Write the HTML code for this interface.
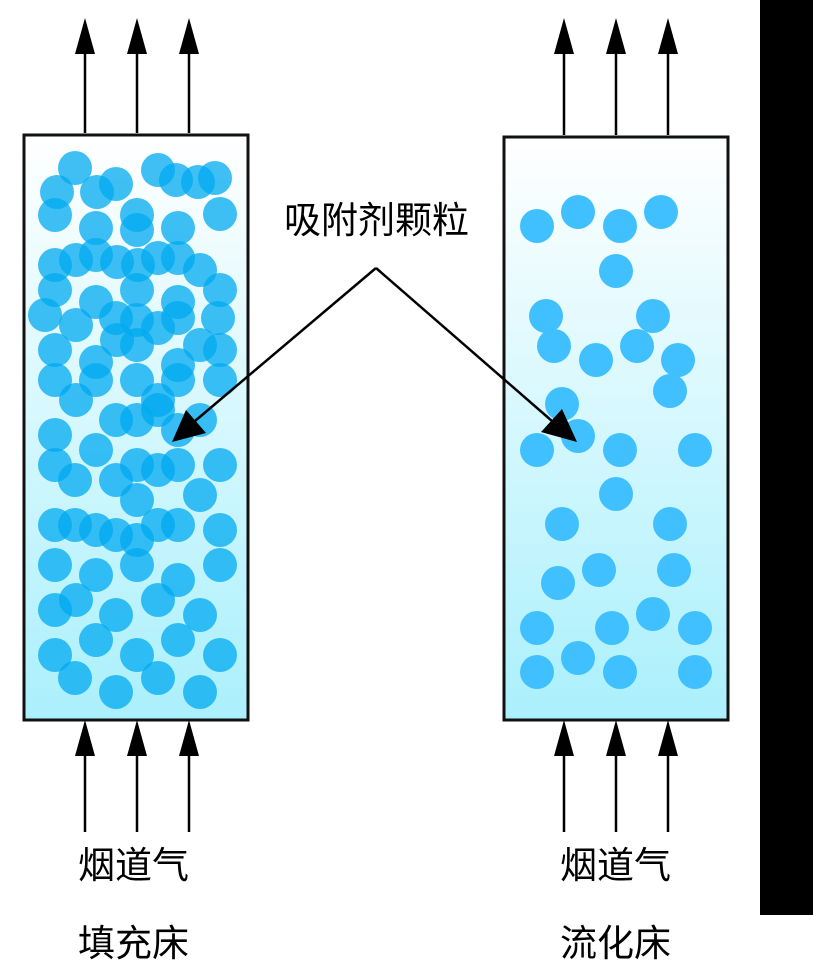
<!DOCTYPE html>
<html><head><meta charset="utf-8"><style>
html,body{margin:0;padding:0;background:#fff;width:813px;height:970px;overflow:hidden}
svg text{font-family:"Liberation Sans","Noto Sans CJK SC",sans-serif;font-size:37px;fill:#000}
</style></head><body>
<svg width="813" height="970" viewBox="0 0 813 970" xmlns="http://www.w3.org/2000/svg">
<defs>
<linearGradient id="g" x1="0" y1="0" x2="0" y2="1">
<stop offset="0" stop-color="#ffffff"/><stop offset="1" stop-color="#aaf0fc"/>
</linearGradient>
</defs>
<rect x="760" y="0" width="53" height="915" fill="#000"/>
<rect x="24" y="135" width="224" height="585" fill="url(#g)" stroke="#111" stroke-width="3"/>
<rect x="504" y="137" width="224" height="583" fill="url(#g)" stroke="#111" stroke-width="3"/>
<g fill="#00aaf0" fill-opacity="0.75">
<circle cx="75" cy="168" r="17"/><circle cx="158" cy="170" r="17"/><circle cx="176" cy="180" r="17"/><circle cx="198" cy="182" r="17"/><circle cx="215" cy="178" r="17"/><circle cx="57" cy="192" r="17"/><circle cx="97" cy="192" r="17"/><circle cx="116" cy="184" r="17"/>
<circle cx="55" cy="215" r="17"/><circle cx="96" cy="228" r="17"/><circle cx="137" cy="215" r="17"/><circle cx="137" cy="230" r="17"/><circle cx="178" cy="228" r="17"/><circle cx="220" cy="214" r="17"/>
<circle cx="55" cy="265" r="17"/><circle cx="96" cy="255" r="17"/><circle cx="76" cy="260" r="17"/><circle cx="117" cy="262" r="17"/><circle cx="138" cy="265" r="17"/><circle cx="158" cy="258" r="17"/><circle cx="178" cy="258" r="17"/><circle cx="200" cy="270" r="17"/>
<circle cx="55" cy="290" r="17"/><circle cx="96" cy="302" r="17"/><circle cx="137" cy="290" r="17"/><circle cx="178" cy="302" r="17"/><circle cx="220" cy="290" r="17"/>
<circle cx="45" cy="315" r="17"/><circle cx="76" cy="325" r="17"/><circle cx="116" cy="318" r="17"/><circle cx="137" cy="320" r="17"/><circle cx="158" cy="328" r="17"/><circle cx="178" cy="318" r="17"/><circle cx="218" cy="318" r="17"/>
<circle cx="55" cy="350" r="17"/><circle cx="96" cy="362" r="17"/><circle cx="117" cy="340" r="17"/><circle cx="137" cy="345" r="17"/><circle cx="178" cy="365" r="17"/><circle cx="200" cy="345" r="17"/><circle cx="220" cy="350" r="17"/>
<circle cx="55" cy="380" r="17"/><circle cx="76" cy="400" r="17"/><circle cx="96" cy="380" r="17"/><circle cx="137" cy="380" r="17"/><circle cx="158" cy="400" r="17"/><circle cx="178" cy="380" r="17"/><circle cx="220" cy="380" r="17"/>
<circle cx="55" cy="435" r="17"/><circle cx="96" cy="450" r="17"/><circle cx="116" cy="420" r="17"/><circle cx="137" cy="420" r="17"/><circle cx="158" cy="410" r="17"/><circle cx="200" cy="420" r="17"/><circle cx="178" cy="430" r="17"/>
<circle cx="55" cy="465" r="17"/><circle cx="75" cy="480" r="17"/><circle cx="116" cy="480" r="17"/><circle cx="137" cy="465" r="17"/><circle cx="158" cy="470" r="17"/><circle cx="178" cy="465" r="17"/><circle cx="220" cy="465" r="17"/><circle cx="200" cy="495" r="17"/><circle cx="137" cy="500" r="17"/>
<circle cx="55" cy="525" r="17"/><circle cx="75" cy="525" r="17"/><circle cx="96" cy="530" r="17"/><circle cx="116" cy="535" r="17"/><circle cx="137" cy="540" r="17"/><circle cx="158" cy="525" r="17"/><circle cx="178" cy="525" r="17"/><circle cx="220" cy="530" r="17"/>
<circle cx="55" cy="565" r="17"/><circle cx="96" cy="575" r="17"/><circle cx="137" cy="565" r="17"/><circle cx="178" cy="580" r="17"/><circle cx="220" cy="565" r="17"/><circle cx="76" cy="600" r="17"/><circle cx="116" cy="615" r="17"/><circle cx="158" cy="600" r="17"/><circle cx="200" cy="615" r="17"/>
<circle cx="55" cy="610" r="17"/><circle cx="96" cy="640" r="17"/><circle cx="137" cy="655" r="17"/><circle cx="178" cy="640" r="17"/><circle cx="220" cy="655" r="17"/><circle cx="55" cy="655" r="17"/><circle cx="75" cy="678" r="17"/><circle cx="116" cy="692" r="17"/><circle cx="158" cy="678" r="17"/><circle cx="200" cy="692" r="17"/>
</g>
<g fill="#40c0ff">
<circle cx="537" cy="226" r="17"/><circle cx="578" cy="212" r="17"/><circle cx="620" cy="226" r="17"/><circle cx="661" cy="212" r="17"/><circle cx="616" cy="271" r="17"/>
<circle cx="546" cy="316" r="17"/><circle cx="554" cy="346" r="17"/><circle cx="596" cy="360" r="17"/><circle cx="637" cy="346" r="17"/><circle cx="653" cy="316" r="17"/><circle cx="678" cy="360" r="17"/><circle cx="670" cy="391" r="17"/>
<circle cx="562" cy="404" r="17"/><circle cx="537" cy="450" r="17"/><circle cx="578" cy="436" r="17"/><circle cx="620" cy="450" r="17"/><circle cx="695" cy="450" r="17"/><circle cx="616" cy="494" r="17"/>
<circle cx="562" cy="524" r="17"/><circle cx="670" cy="524" r="17"/><circle cx="558" cy="583" r="17"/><circle cx="599" cy="570" r="17"/><circle cx="674" cy="570" r="17"/>
<circle cx="537" cy="628" r="17"/><circle cx="612" cy="628" r="17"/><circle cx="653" cy="614" r="17"/><circle cx="695" cy="628" r="17"/><circle cx="537" cy="672" r="17"/><circle cx="578" cy="658" r="17"/><circle cx="620" cy="672" r="17"/><circle cx="695" cy="672" r="17"/>
</g>
<g stroke="#000" stroke-width="2.5">
<line x1="85" y1="133" x2="85" y2="50"/><line x1="137" y1="133" x2="137" y2="50"/><line x1="189" y1="133" x2="189" y2="50"/>
<line x1="564" y1="135" x2="564" y2="50"/><line x1="616" y1="135" x2="616" y2="50"/><line x1="668" y1="135" x2="668" y2="50"/>
<line x1="85" y1="832" x2="85" y2="750"/><line x1="137" y1="832" x2="137" y2="750"/><line x1="189" y1="832" x2="189" y2="750"/>
<line x1="564" y1="832" x2="564" y2="750"/><line x1="616" y1="832" x2="616" y2="750"/><line x1="668" y1="832" x2="668" y2="750"/>
<line x1="376" y1="268" x2="195" y2="421"/><line x1="376" y1="268" x2="552" y2="421"/>
</g>
<g fill="#000">
<path d="M85,18 L75,54 L95,54Z"/><path d="M137,18 L127,54 L147,54Z"/><path d="M189,18 L179,54 L199,54Z"/>
<path d="M564,18 L554,54 L574,54Z"/><path d="M616,18 L606,54 L626,54Z"/><path d="M668,18 L658,54 L678,54Z"/>
<path d="M85,720 L75,756 L95,756Z"/><path d="M137,720 L127,756 L147,756Z"/><path d="M189,720 L179,756 L199,756Z"/>
<path d="M564,720 L554,756 L574,756Z"/><path d="M616,720 L606,756 L626,756Z"/><path d="M668,720 L658,756 L678,756Z"/>
<path d="M172,442 L186,410 L206,433Z"/><path d="M577,442 L541,432 L562,409Z"/>
</g>
<text x="284" y="233">吸附剂颗粒</text>
<text x="78" y="878">烟道气</text>
<text x="78" y="956">填充床</text>
<text x="560" y="878">烟道气</text>
<text x="560" y="956">流化床</text>
</svg>
</body></html>
